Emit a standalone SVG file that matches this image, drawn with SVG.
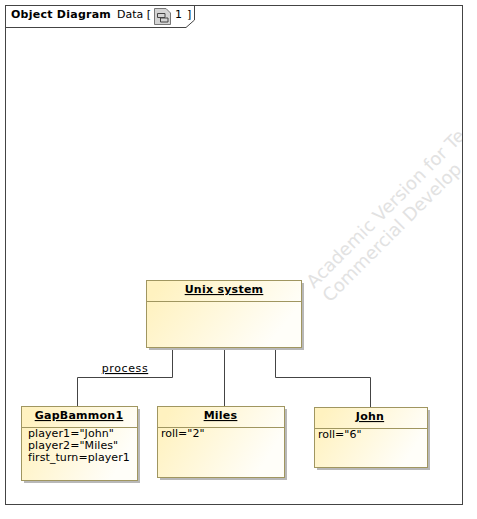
<svg xmlns="http://www.w3.org/2000/svg" width="477" height="519" viewBox="0 0 477 519">
<style>
text{font-family:"DejaVu Sans",sans-serif;font-size:11px;fill:#000}
.t{font-weight:bold;text-anchor:middle;text-decoration:underline;letter-spacing:.25px}
.b{fill:url(#g);stroke:#a09660;stroke-width:1}
.s{fill:#b8b8b8}
.d{stroke:#a09660;stroke-width:1}
.c{fill:none;stroke:#444;stroke-width:1}
.w{font-size:18px;fill:#e2e2e2}
</style>
<defs>
<linearGradient id="g" x1="0" y1="0" x2="1" y2="0.35"><stop offset="0.1" stop-color="#fff2c0"/><stop offset="1" stop-color="#fffef9"/></linearGradient>
<clipPath id="f"><rect x="6" y="6" width="456" height="498"/></clipPath>
</defs>
<rect width="477" height="519" fill="#fff"/>
<g id="watermark" clip-path="url(#f)">
<text class="w" transform="translate(314 289) rotate(-45)">Academic Version for Te</text>
<text class="w" transform="translate(330 303) rotate(-45)">Commercial Develop</text>
</g>
<g id="frame">
<rect x="5.500" y="5.500" width="457" height="499" fill="none" stroke="#444"/>
<path d="M5.500 27.500H186L194.500 20V5.500" fill="none" stroke="#444"/>
<text x="11" y="18" style="font-weight:bold;letter-spacing:.25px">Object Diagram</text>
<text x="117" y="18">Data [</text>
<path d="M154.500 8.500H166L170.500 13V24.500H154.500Z" fill="#d4d4d4" stroke="#777"/>
<path d="M157.500 13.500H165V17.500H157.500ZM160.500 18H168V22H160.500Z" fill="#d4d4d4" stroke="#444"/>
<text x="175" y="18" style="word-spacing:1.500px">1 ]</text>
</g>
<g id="connectors">
<path class="c" d="M172.500 348V377.500H77.500V406"/>
<path class="c" d="M224.500 348V406"/>
<path class="c" d="M275.500 348V377.500H370.500V407"/>
<text x="125" y="372" text-anchor="middle" text-decoration="underline" style="letter-spacing:.6px">process</text>
</g>
<g id="unix-system">
<rect class="s" x="149" y="283" width="155" height="67"/>
<rect class="b" x="146.500" y="280.500" width="155" height="67"/>
<line class="d" x1="146.500" y1="301.500" x2="301.500" y2="301.500"/>
<text class="t" x="224" y="293">Unix system</text>
</g>
<g id="gapbammon1">
<rect class="s" x="24" y="409" width="116" height="74"/>
<rect class="b" x="21.500" y="406.500" width="116" height="74"/>
<line class="d" x1="21.500" y1="427.500" x2="137.500" y2="427.500"/>
<text class="t" x="79" y="419">GapBammon1</text>
<text x="28" y="437" style="letter-spacing:.08px">player1="John"</text>
<text x="28" y="449" style="letter-spacing:.08px">player2="Miles"</text>
<text x="28" y="461" style="letter-spacing:.08px">first_turn=player1</text>
</g>
<g id="miles">
<rect class="s" x="160" y="409" width="127" height="71"/>
<rect class="b" x="157.500" y="406.500" width="127" height="71"/>
<line class="d" x1="157.500" y1="427.500" x2="284.500" y2="427.500"/>
<text class="t" x="220.500" y="419">Miles</text>
<text x="161" y="437">roll="2"</text>
</g>
<g id="john">
<rect class="s" x="317" y="410" width="113" height="60"/>
<rect class="b" x="314.500" y="407.500" width="113" height="60"/>
<line class="d" x1="314.500" y1="428.500" x2="427.500" y2="428.500"/>
<text class="t" x="370" y="420">John</text>
<text x="318" y="438">roll="6"</text>
</g>
</svg>
